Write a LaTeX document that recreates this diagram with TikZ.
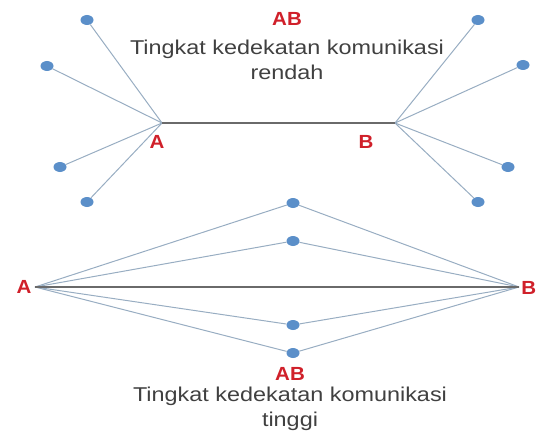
\documentclass[tikz,border=0pt]{standalone}
\usepackage{fontspec}
\setmainfont{Liberation Sans}
\newfontfamily\descfont[FakeStretch=1.17]{Liberation Sans}
\newfontfamily\labfont[FakeStretch=1.08]{Liberation Sans}
\usetikzlibrary{shapes.geometric}
\definecolor{dotblue}{HTML}{5B8FC9}
\definecolor{linkgray}{HTML}{98ADC2}
\definecolor{mainline}{HTML}{6A6A6A}
\definecolor{labred}{HTML}{D0202A}
\definecolor{txtgray}{HTML}{404040}
\begin{document}
\begin{tikzpicture}[x=1pt,y=-1pt,
  dot/.style={ellipse, fill=dotblue, minimum width=13pt, minimum height=10pt, inner sep=0pt},
  link/.style={draw=linkgray, line width=1pt},
  mainlink/.style={draw=mainline, line width=1.2pt},
  lab/.style={text=labred, font=\labfont\fontsize{19}{22}\selectfont\bfseries, inner sep=0pt},
  desc/.style={text=txtgray, font=\descfont\fontsize{20}{25}\selectfont, align=center, inner sep=0pt}]
\useasboundingbox (0,0) rectangle (537,441);
% ---- top: rendah ----
\coordinate (tA) at (162,123);
\coordinate (tB) at (395,123);
\node[dot] (l1) at (87,20) {};
\node[dot] (l2) at (47,66) {};
\node[dot] (l3) at (60,167) {};
\node[dot] (l4) at (87,202) {};
\node[dot] (r1) at (478,20) {};
\node[dot] (r2) at (523,65) {};
\node[dot] (r3) at (508,167) {};
\node[dot] (r4) at (478,202) {};
\foreach \n in {l1,l2,l3,l4} \draw[link] (tA) -- (\n);
\foreach \n in {r1,r2,r3,r4} \draw[link] (tB) -- (\n);
\draw[mainlink] (tA) -- (tB);
\node[lab] (tAl) at (157,142) {A};
\node[lab] (tBl) at (366,142) {B};
\node[lab] (tAB) at (287,19) {AB};
\node[desc] (tdesc) at (287,60) {Tingkat kedekatan komunikasi\\rendah};
% ---- bottom: tinggi ----
\coordinate (bA) at (35,287);
\coordinate (bB) at (519,287);
\node[dot] (m1) at (293,203) {};
\node[dot] (m2) at (293,241) {};
\node[dot] (m3) at (293,325) {};
\node[dot] (m4) at (293,353) {};
\foreach \n in {m1,m2,m3,m4} {\draw[link] (bA) -- (\n); \draw[link] (\n) -- (bB);}
\draw[mainlink] (bA) -- (bB);
\node[lab] (bAl) at (24,287) {A};
\node[lab, anchor=east] (bBl) at (536.5,288) {B};
\node[lab] (bAB) at (290,374) {AB};
\node[desc] (bdesc) at (290,409) {Tingkat kedekatan komunikasi\\tinggi};
\end{tikzpicture}
\end{document}
